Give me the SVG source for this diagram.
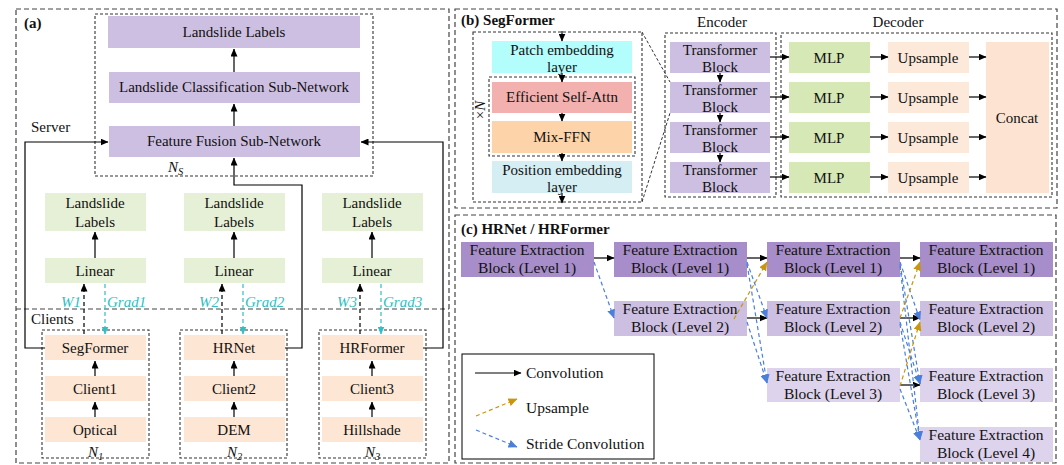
<svg xmlns="http://www.w3.org/2000/svg" width="1064" height="465" viewBox="0 0 1064 465" font-family="'Liberation Serif','Times New Roman',serif">
<defs>
<marker id="ab" markerUnits="userSpaceOnUse" markerWidth="8" markerHeight="7" refX="7.5" refY="3.5" orient="auto"><path d="M0,0 L8,3.5 L0,7 z" fill="#000"/></marker>
<marker id="at" markerUnits="userSpaceOnUse" markerWidth="8" markerHeight="7" refX="7.5" refY="3.5" orient="auto"><path d="M0,0 L8,3.5 L0,7 z" fill="#2FBFC4"/></marker>
<marker id="ag" markerUnits="userSpaceOnUse" markerWidth="9" markerHeight="8" refX="8.5" refY="4" orient="auto"><path d="M0,0 L9,4 L0,8 z" fill="#C8960F"/></marker>
<marker id="abl" markerUnits="userSpaceOnUse" markerWidth="9" markerHeight="8" refX="8.5" refY="4" orient="auto"><path d="M0,0 L9,4 L0,8 z" fill="#4A7FDB"/></marker>
</defs>
<style>
text{font-family:"Liberation Serif","Times New Roman",serif;font-size:15px;fill:#111;}
.c{text-anchor:middle;}
.b{font-weight:bold;}
.it{font-style:italic;}
.fc{font-size:15.5px;}
.panel{fill:none;stroke:#444;stroke-width:1.2;stroke-dasharray:5,3;}
.dbox{fill:none;stroke:#333;stroke-width:1.1;stroke-dasharray:3,2;}
.pu{fill:#CDBFE1;}
.gr{fill:#E6F0D6;}
.sa{fill:#FDE6D3;}
.l1{fill:#A78DC9;}
.l2{fill:#CDBFE1;}
.l3{fill:#DDD3EC;}
.ln{fill:none;stroke:#000;stroke-width:1.2;}
.dk{fill:none;stroke:#000;stroke-width:1.2;stroke-dasharray:4,3;}
.tl{fill:none;stroke:#2FBFC4;stroke-width:1.2;stroke-dasharray:4,3;}
.gd{fill:none;stroke:#C8960F;stroke-width:1.2;stroke-dasharray:4,3;}
.bl{fill:none;stroke:#4A7FDB;stroke-width:1.2;stroke-dasharray:4,3;}
.teal{fill:#2FBFC4;font-style:italic;}
</style>

<!-- Panel (a) -->
<g id="panel-a">
<rect class="panel" x="16" y="9" width="433" height="454"/>
<text class="b" x="24" y="28">(a)</text>
<text x="31" y="132">Server</text>
<line x1="16" y1="309" x2="449" y2="309" stroke="#444" stroke-width="1.2" stroke-dasharray="5,3"/>
<text x="31" y="324">Clients</text>
</g>
<g id="server">
<rect class="dbox" x="95" y="14" width="278" height="162"/>
<text class="it" x="168" y="172">N<tspan font-size="10.5" dy="3">S</tspan></text>
</g>
<g id="a-labels"><rect class="pu" x="108" y="16" width="252" height="32"/><text class="c" x="234" y="37">Landslide Labels</text></g>
<g id="a-classif"><rect class="pu" x="109" y="72" width="251" height="31"/><text class="c" x="234" y="92">Landslide Classification Sub-Network</text></g>
<g id="a-fusion"><rect class="pu" x="109" y="126" width="251" height="31"/><text class="c" x="234" y="146">Feature Fusion Sub-Network</text></g>

<g id="c1-labels"><rect class="gr" x="45" y="193" width="101" height="38"/><text class="c" x="95" y="208">Landslide</text><text class="c" x="95" y="227">Labels</text></g>
<g id="c1-linear"><rect class="gr" x="45" y="258" width="101" height="25"/><text class="c" x="95" y="276">Linear</text></g>
<g id="c2-labels"><rect class="gr" x="184" y="193" width="101" height="38"/><text class="c" x="234" y="208">Landslide</text><text class="c" x="234" y="227">Labels</text></g>
<g id="c2-linear"><rect class="gr" x="184" y="258" width="101" height="25"/><text class="c" x="234" y="276">Linear</text></g>
<g id="c3-labels"><rect class="gr" x="322" y="193" width="101" height="38"/><text class="c" x="372" y="208">Landslide</text><text class="c" x="372" y="227">Labels</text></g>
<g id="c3-linear"><rect class="gr" x="322" y="258" width="101" height="25"/><text class="c" x="372" y="276">Linear</text></g>

<g id="client1">
<rect class="dbox" x="42" y="330" width="107" height="128"/>
<rect class="sa" x="45" y="335" width="101" height="25"/><text class="c" x="95" y="353">SegFormer</text>
<rect class="sa" x="45" y="376" width="101" height="25"/><text class="c" x="95" y="394">Client1</text>
<rect class="sa" x="45" y="417" width="101" height="25"/><text class="c" x="95" y="435">Optical</text>
<text class="it" x="88" y="457">N<tspan font-size="10.5" dy="3">1</tspan></text>
</g>
<g id="client2">
<rect class="dbox" x="180" y="330" width="107" height="128"/>
<rect class="sa" x="184" y="335" width="101" height="25"/><text class="c" x="234" y="353">HRNet</text>
<rect class="sa" x="184" y="376" width="101" height="25"/><text class="c" x="234" y="394">Client2</text>
<rect class="sa" x="184" y="417" width="101" height="25"/><text class="c" x="234" y="435">DEM</text>
<text class="it" x="227" y="457">N<tspan font-size="10.5" dy="3">2</tspan></text>
</g>
<g id="client3">
<rect class="dbox" x="319" y="330" width="107" height="128"/>
<rect class="sa" x="322" y="335" width="101" height="25"/><text class="c" x="372" y="353">HRFormer</text>
<rect class="sa" x="322" y="376" width="101" height="25"/><text class="c" x="372" y="394">Client3</text>
<rect class="sa" x="322" y="417" width="101" height="25"/><text class="c" x="372" y="435">Hillshade</text>
<text class="it" x="365" y="457">N<tspan font-size="10.5" dy="3">3</tspan></text>
</g>

<g id="a-connectors">
<line class="ln" x1="234" y1="72" x2="234" y2="49" marker-end="url(#ab)"/>
<line class="ln" x1="234" y1="126" x2="234" y2="104" marker-end="url(#ab)"/>
<polyline class="ln" points="45,348 25,348 25,142 108,142" marker-end="url(#ab)"/>
<polyline class="ln" points="423,348 443,348 443,142 361,142" marker-end="url(#ab)"/>
<polyline class="ln" points="285,348 302,348 302,185 234,185 234,158" marker-end="url(#ab)"/>
<line class="ln" x1="95" y1="258" x2="95" y2="232" marker-end="url(#ab)"/>
<line class="ln" x1="234" y1="258" x2="234" y2="232" marker-end="url(#ab)"/>
<line class="ln" x1="372" y1="258" x2="372" y2="232" marker-end="url(#ab)"/>
<line class="ln" x1="95" y1="376" x2="95" y2="361" marker-end="url(#ab)"/>
<line class="ln" x1="95" y1="417" x2="95" y2="402" marker-end="url(#ab)"/>
<line class="ln" x1="234" y1="376" x2="234" y2="361" marker-end="url(#ab)"/>
<line class="ln" x1="234" y1="417" x2="234" y2="402" marker-end="url(#ab)"/>
<line class="ln" x1="372" y1="376" x2="372" y2="361" marker-end="url(#ab)"/>
<line class="ln" x1="372" y1="417" x2="372" y2="402" marker-end="url(#ab)"/>
<line class="dk" x1="84" y1="334" x2="84" y2="284" marker-end="url(#ab)"/>
<line class="tl" x1="105" y1="284" x2="105" y2="334" marker-end="url(#at)"/>
<line class="dk" x1="222" y1="334" x2="222" y2="284" marker-end="url(#ab)"/>
<line class="tl" x1="243" y1="284" x2="243" y2="334" marker-end="url(#at)"/>
<line class="dk" x1="360" y1="334" x2="360" y2="284" marker-end="url(#ab)"/>
<line class="tl" x1="381" y1="284" x2="381" y2="334" marker-end="url(#at)"/>
<text class="teal" x="81" y="307" text-anchor="end">W1</text>
<text class="teal" x="107" y="307">Grad1</text>
<text class="teal" x="219" y="307" text-anchor="end">W2</text>
<text class="teal" x="245" y="307">Grad2</text>
<text class="teal" x="357" y="307" text-anchor="end">W3</text>
<text class="teal" x="383" y="307">Grad3</text>
</g>

<!-- Panel (b) -->
<g id="panel-b">
<rect class="panel" x="455" y="9" width="602" height="199"/>
<text class="b" x="461" y="25">(b) SegFormer</text>
<text class="c" x="722" y="27">Encoder</text>
<text class="c" x="898" y="27">Decoder</text>
</g>
<g id="segformer-stage">
<rect class="dbox" x="473" y="32" width="169" height="170"/>
<rect class="dbox" x="489" y="77" width="146" height="79"/>
<text transform="translate(485,110) rotate(-90)" class="c">×<tspan class="it">N</tspan></text>
</g>
<g id="patch-emb"><rect fill="#B4FDFD" x="492" y="41" width="140" height="32"/><text class="c" x="562" y="55">Patch embedding</text><text class="c" x="562" y="72">layer</text></g>
<g id="esa"><rect fill="#F2B1AF" x="492" y="82" width="140" height="31"/><text class="c" x="562" y="102">Efficient Self-Attn</text></g>
<g id="mixffn"><rect fill="#FDD4A9" x="492" y="121" width="140" height="32"/><text class="c" x="562" y="142">Mix-FFN</text></g>
<g id="pos-emb"><rect fill="#D4EEF4" x="492" y="161" width="140" height="32"/><text class="c" x="562" y="175">Position embedding</text><text class="c" x="562" y="192">layer</text></g>
<g id="encoder">
<rect class="dbox" x="665" y="33" width="111" height="164"/>
</g>
<g id="tb1"><rect class="pu" x="670" y="42" width="100" height="31"/><text class="c" x="720" y="55">Transformer</text><text class="c" x="720" y="72">Block</text></g>
<g id="tb2"><rect class="pu" x="670" y="82" width="100" height="31"/><text class="c" x="720" y="95">Transformer</text><text class="c" x="720" y="112">Block</text></g>
<g id="tb3"><rect class="pu" x="670" y="122" width="100" height="31"/><text class="c" x="720" y="135">Transformer</text><text class="c" x="720" y="152">Block</text></g>
<g id="tb4"><rect class="pu" x="670" y="162" width="100" height="31"/><text class="c" x="720" y="175">Transformer</text><text class="c" x="720" y="192">Block</text></g>
<g id="decoder"><rect class="dbox" x="781" y="33" width="271" height="164"/></g>
<g id="mlp1"><rect fill="#D5E8B6" x="789" y="42" width="81" height="31"/><text class="c" x="829" y="63">MLP</text></g>
<g id="mlp2"><rect fill="#D5E8B6" x="789" y="82" width="81" height="31"/><text class="c" x="829" y="103">MLP</text></g>
<g id="mlp3"><rect fill="#D5E8B6" x="789" y="122" width="81" height="31"/><text class="c" x="829" y="143">MLP</text></g>
<g id="mlp4"><rect fill="#D5E8B6" x="789" y="162" width="81" height="31"/><text class="c" x="829" y="183">MLP</text></g>
<g id="up1"><rect fill="#FDE9DA" x="888" y="42" width="81" height="31"/><text class="c" x="928" y="63">Upsample</text></g>
<g id="up2"><rect fill="#FDE9DA" x="888" y="82" width="81" height="31"/><text class="c" x="928" y="103">Upsample</text></g>
<g id="up3"><rect fill="#FDE9DA" x="888" y="122" width="81" height="31"/><text class="c" x="928" y="143">Upsample</text></g>
<g id="up4"><rect fill="#FDE9DA" x="888" y="162" width="81" height="31"/><text class="c" x="928" y="183">Upsample</text></g>
<g id="concat"><rect fill="#FDE4D2" x="986" y="42" width="63" height="151"/><text class="c" x="1017" y="123">Concat</text></g>

<g id="b-connectors">
<line class="ln" x1="562" y1="31" x2="562" y2="41" marker-end="url(#ab)"/>
<line class="ln" x1="562" y1="73" x2="562" y2="82" marker-end="url(#ab)"/>
<line class="ln" x1="562" y1="113" x2="562" y2="121" marker-end="url(#ab)"/>
<line class="ln" x1="562" y1="153" x2="562" y2="161" marker-end="url(#ab)"/>
<line class="ln" x1="562" y1="193" x2="562" y2="203" marker-end="url(#ab)"/>
<line x1="642" y1="32" x2="670" y2="82" stroke="#333" stroke-width="1" stroke-dasharray="3,2"/>
<line x1="642" y1="202" x2="670" y2="113" stroke="#333" stroke-width="1" stroke-dasharray="3,2"/>
<line class="ln" x1="720" y1="73" x2="720" y2="82" marker-end="url(#ab)"/>
<line class="ln" x1="720" y1="113" x2="720" y2="122" marker-end="url(#ab)"/>
<line class="ln" x1="720" y1="153" x2="720" y2="162" marker-end="url(#ab)"/>
<line class="ln" x1="770" y1="57" x2="789" y2="57" marker-end="url(#ab)"/>
<line class="ln" x1="770" y1="97" x2="789" y2="97" marker-end="url(#ab)"/>
<line class="ln" x1="770" y1="137" x2="789" y2="137" marker-end="url(#ab)"/>
<line class="ln" x1="770" y1="177" x2="789" y2="177" marker-end="url(#ab)"/>
<line class="ln" x1="870" y1="57" x2="888" y2="57" marker-end="url(#ab)"/>
<line class="ln" x1="870" y1="97" x2="888" y2="97" marker-end="url(#ab)"/>
<line class="ln" x1="870" y1="137" x2="888" y2="137" marker-end="url(#ab)"/>
<line class="ln" x1="870" y1="177" x2="888" y2="177" marker-end="url(#ab)"/>
<line class="ln" x1="969" y1="57" x2="986" y2="57" marker-end="url(#ab)"/>
<line class="ln" x1="969" y1="97" x2="986" y2="97" marker-end="url(#ab)"/>
<line class="ln" x1="969" y1="137" x2="986" y2="137" marker-end="url(#ab)"/>
<line class="ln" x1="969" y1="177" x2="986" y2="177" marker-end="url(#ab)"/>
</g>

<!-- Panel (c) -->
<g id="panel-c">
<rect class="panel" x="455" y="215" width="601" height="248"/>
<text class="b" x="461" y="234">(c) HRNet / HRFormer</text>
</g>
<g id="c1l1"><rect class="l1" x="461" y="242" width="133" height="35"/><text class="c fc" x="527" y="255">Feature Extraction</text><text class="c fc" x="527" y="273">Block (Level 1)</text></g>
<g id="c2l1"><rect class="l1" x="614" y="242" width="133" height="35"/><text class="c fc" x="680" y="255">Feature Extraction</text><text class="c fc" x="680" y="273">Block (Level 1)</text></g>
<g id="c2l2"><rect class="l2" x="614" y="301" width="133" height="35"/><text class="c fc" x="680" y="314">Feature Extraction</text><text class="c fc" x="680" y="332">Block (Level 2)</text></g>
<g id="c3l1"><rect class="l1" x="767" y="242" width="133" height="35"/><text class="c fc" x="833" y="255">Feature Extraction</text><text class="c fc" x="833" y="273">Block (Level 1)</text></g>
<g id="c3l2"><rect class="l2" x="767" y="301" width="133" height="35"/><text class="c fc" x="833" y="314">Feature Extraction</text><text class="c fc" x="833" y="332">Block (Level 2)</text></g>
<g id="c3l3"><rect class="l3" x="767" y="368" width="133" height="34"/><text class="c fc" x="833" y="381">Feature Extraction</text><text class="c fc" x="833" y="399">Block (Level 3)</text></g>
<g id="c4l1"><rect class="l1" x="920" y="242" width="133" height="35"/><text class="c fc" x="986" y="255">Feature Extraction</text><text class="c fc" x="986" y="273">Block (Level 1)</text></g>
<g id="c4l2"><rect class="l2" x="920" y="301" width="133" height="35"/><text class="c fc" x="986" y="314">Feature Extraction</text><text class="c fc" x="986" y="332">Block (Level 2)</text></g>
<g id="c4l3"><rect class="l3" x="920" y="368" width="133" height="34"/><text class="c fc" x="986" y="381">Feature Extraction</text><text class="c fc" x="986" y="399">Block (Level 3)</text></g>
<g id="c4l4"><rect class="l3" x="920" y="427" width="133" height="35"/><text class="c fc" x="986" y="440">Feature Extraction</text><text class="c fc" x="986" y="458">Block (Level 4)</text></g>

<g id="legend">
<rect x="462" y="354" width="192" height="105" fill="#fff" stroke="#000" stroke-width="1"/>
<line class="ln" x1="475" y1="373" x2="521" y2="373" marker-end="url(#ab)"/>
<text class="fc" x="526" y="378">Convolution</text>
<line class="gd" x1="476" y1="416" x2="517" y2="399" marker-end="url(#ag)"/>
<text class="fc" x="526" y="413">Upsample</text>
<line class="bl" x1="476" y1="430" x2="517" y2="447" marker-end="url(#abl)"/>
<text class="fc" x="526" y="449">Stride Convolution</text>
</g>

<g id="c-connectors">
<line class="ln" x1="594" y1="258" x2="614" y2="258" marker-end="url(#ab)"/>
<line class="ln" x1="747" y1="258" x2="767" y2="258" marker-end="url(#ab)"/>
<line class="ln" x1="747" y1="318" x2="767" y2="318" marker-end="url(#ab)"/>
<line class="ln" x1="900" y1="258" x2="920" y2="258" marker-end="url(#ab)"/>
<line class="ln" x1="900" y1="318" x2="920" y2="318" marker-end="url(#ab)"/>
<line class="ln" x1="900" y1="385" x2="920" y2="385" marker-end="url(#ab)"/>
<line class="bl" x1="594" y1="262" x2="614" y2="318" marker-end="url(#abl)"/>
<line class="bl" x1="747" y1="262" x2="767" y2="318" marker-end="url(#abl)"/>
<line class="bl" x1="747" y1="264" x2="767" y2="383" marker-end="url(#abl)"/>
<line class="bl" x1="747" y1="322" x2="767" y2="383" marker-end="url(#abl)"/>
<line class="bl" x1="900" y1="262" x2="920" y2="320" marker-end="url(#abl)"/>
<line class="bl" x1="900" y1="264" x2="920" y2="384" marker-end="url(#abl)"/>
<line class="bl" x1="900" y1="266" x2="920" y2="440" marker-end="url(#abl)"/>
<line class="bl" x1="900" y1="322" x2="920" y2="384" marker-end="url(#abl)"/>
<line class="bl" x1="900" y1="324" x2="920" y2="440" marker-end="url(#abl)"/>
<line class="bl" x1="900" y1="389" x2="920" y2="440" marker-end="url(#abl)"/>
<line class="gd" x1="734" y1="319" x2="767" y2="262" marker-end="url(#ag)"/>
<line class="gd" x1="900" y1="318" x2="920" y2="262" marker-end="url(#ag)"/>
<line class="gd" x1="900" y1="386" x2="920" y2="322" marker-end="url(#ag)"/>
</g>
</svg>
